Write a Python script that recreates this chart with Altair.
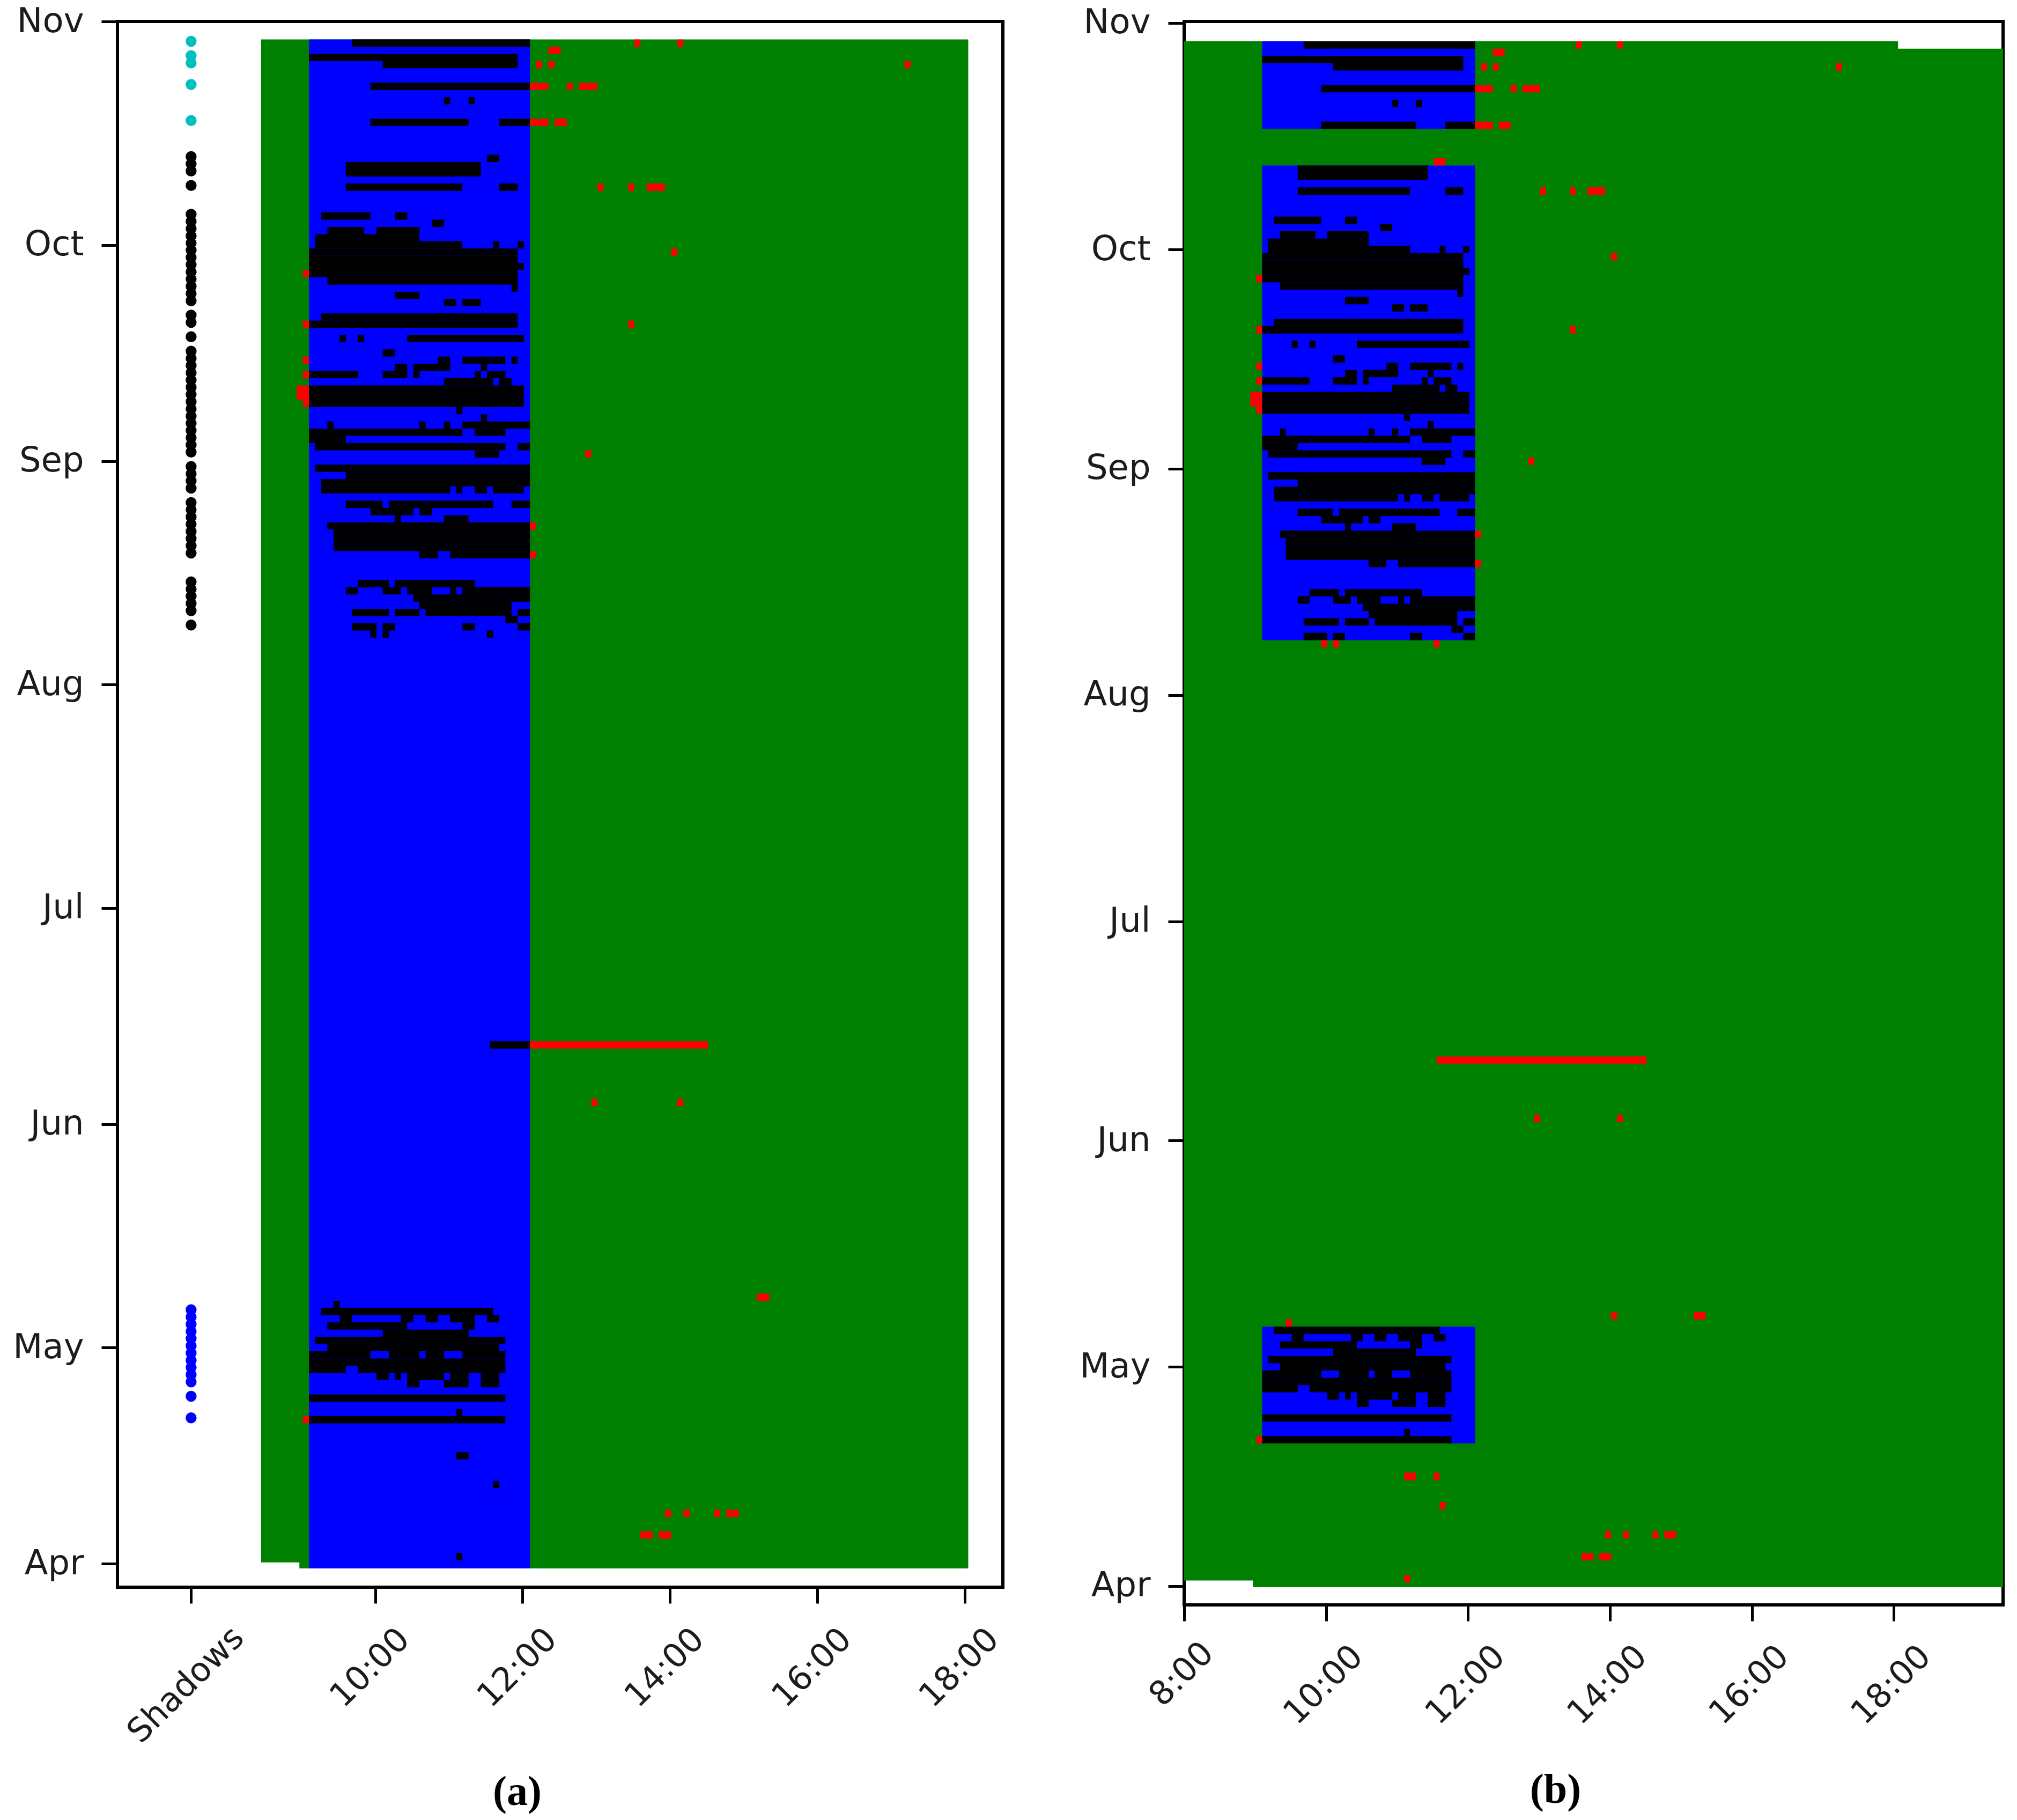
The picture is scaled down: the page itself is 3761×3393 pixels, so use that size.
import altair as alt
import pandas as pd

# Calendar: days since 1 April, month labels
month_days = [0, 30, 61, 91, 122, 153, 183, 214]
month_names = ["Apr", "May", "Jun", "Jul", "Aug", "Sep", "Oct", "Nov"]
# Time slots are 5 minutes, counted from the start of the detection window
window_start = 9.1
window_end = 12.1
first_row_day = 211.5   # rows are days, counted from the top

# detected cells: (row, first slot, end slot)
shadow_cells = [
    (0,7,36),(0,53,54),(0,60,61),(1,39,41),(2,0,34),(3,12,34),(3,37,38),(3,39,40),(3,97,98),
    (6,10,39),(6,42,43),(6,44,47),(8,22,23),(8,26,27),(11,10,26),(11,31,39),(11,40,42),
    (16,29,31),(17,6,28),(18,6,28),(20,6,25),(20,31,34),(20,47,48),(20,52,53),(20,55,58),
    (24,2,10),(24,14,16),(25,20,22),(26,3,9),(26,11,18),(27,1,18),(28,1,25),(28,30,31),(28,34,35),
    (29,0,34),(29,59,60),(30,0,34),(31,0,35),(32,-1,34),(33,3,34),(34,33,34),(35,14,18),
    (36,22,24),(36,25,28),(38,2,34),(39,-1,34),(39,52,53),(41,5,6),(41,8,9),(41,16,35),
    (43,12,14),(44,-1,0),(44,21,23),(44,25,32),(44,33,34),(45,14,16),(45,17,23),(45,28,29),
    (46,-1,8),(46,12,16),(46,17,18),(46,27,28),(46,29,32),(47,22,30),(47,31,33),
    (48,-2,35),(49,-2,35),(50,-1,35),(51,24,25),(52,28,29),
    (53,3,4),(53,18,19),(53,22,23),(53,25,36),(54,0,25),(54,27,32),(55,0,6),
    (56,1,32),(56,34,36),(57,27,31),(57,45,46),(59,1,36),(60,6,36),(61,2,36),
    (62,2,23),(62,24,25),(62,27,29),(62,30,35),(64,6,12),(64,13,30),(64,33,36),
    (65,10,17),(65,18,20),(66,14,15),(66,22,26),(67,3,37),(68,4,36),(69,4,36),(70,4,36),
    (71,18,21),(71,23,37),(75,8,13),(75,14,27),(76,6,8),(76,12,15),(76,16,20),(76,23,24),(76,25,36),
    (77,17,36),(78,18,33),(79,7,13),(79,14,18),(79,19,33),(79,34,36),(80,32,34),
    (81,7,11),(81,12,14),(81,25,27),(81,34,36),(82,10,11),(82,12,13),(82,29,30),
    (139,29.5,65),(147,46,47),(147,60,61),(174,73,75),(175,4,5),
    (176,2,30),(177,5,7),(177,15,17),(177,19,21),(177,23,27),(177,29,31),(178,3,16),(178,25,27),
    (179,12,26),(180,1,32),(181,3,31),(182,0,10),(182,13,18),(182,19,22),(182,25,32),(183,0,32),
    (184,0,6),(184,8,32),(185,11,13),(185,14,15),(185,16,22),(185,23,26),(185,28,31),
    (186,16,18),(186,22,26),(186,28,31),(188,0,32),(190,24,25),(191,-1,32),
    (196,24,26),(200,30,31),(204,58,59),(204,61,62),(204,66,67),(204,68,70),
    (207,54,56),(207,57,59),(210,24,25),
]
# cells only seen in the second panel
extra_cells_b = [(174,59,60),(196,29,30)]
# rows with a blue detection window in the second panel: (first row, end row)
blocks_b = [(0,12),(17,82),(176,192)]

shadow_rows_cyan = [0,2,3,6,11]
shadow_rows_black = [16,17,18,20,24,25,26,27,28,29,30,31,32,33,34,35,36,38,39,41,43,44,45,46,47,48,49,50,51,
                     52,53,54,55,56,57,59,60,61,62,64,65,66,67,68,69,70,71,75,76,77,78,79,81]
shadow_rows_blue = [176,177,178,179,180,181,182,183,184,185,186,188,191]

# background regions: (hour from, hour to, day from, day to, colour)
zones_a = [
    (8.45,18.05,0.2,first_row_day,"#008000"),
    (8.97,18.05,-0.63,0.3,"#008000"),
    (window_start,window_end,-0.63,first_row_day,"#0000ff"),
]
zones_b = [
    (8.97,18.06,-0.15,first_row_day,"#008000"),
    (18.04,19.54,-0.15,210.5,"#008000"),
    (8.0,9.2,0.75,first_row_day,"#008000"),
]
xticks_a = [7.5,10,12,14,16,18]
xticks_b = [8,10,12,14,16,18]


def slot(c):
    return window_start + c / 12


def split_cells(cells, inside):
    out = []
    for r, c0, c1 in cells:
        top = first_row_day - r
        if inside(r):
            for lo, hi, col in [(-999, 0, "#ff0000"), (0, 36, "#000000"), (36, 999, "#ff0000")]:
                a, b = max(c0, lo), min(c1, hi)
                if a < b:
                    out.append((slot(a), slot(b), top - 1, top, col))
        else:
            out.append((slot(c0), slot(c1), top - 1, top, "#ff0000"))
    return out


cols = ["x0", "x1", "d0", "d1", "c"]
blue_b = [(window_start, window_end, first_row_day - e, first_row_day - s, "#0000ff") for s, e in blocks_b]
df_a = pd.DataFrame(zones_a + split_cells(shadow_cells, lambda r: True), columns=cols)
in_block = lambda r: any(s <= r < e for s, e in blocks_b)
df_b = pd.DataFrame(zones_b + blue_b + split_cells(shadow_cells + extra_cells_b, in_block), columns=cols)

dots = pd.DataFrame(
    [(7.5, first_row_day - r - 0.25, "#00bfbf") for r in shadow_rows_cyan]
    + [(7.5, first_row_day - r - 0.25, "#000000") for r in shadow_rows_black]
    + [(7.5, first_row_day - r - 0.25, "#0000ff") for r in shadow_rows_blue],
    columns=["x", "d", "c"],
)

month_expr = "{" + ",".join(f"'{d}':'{n}'" for d, n in zip(month_days, month_names)) + "}[datum.value]"
TXT = "#1c1c1c"


def y_axis():
    return alt.Axis(values=month_days, labelExpr=month_expr, labelFont="DejaVu Sans", labelFontSize=64,
                    labelColor=TXT, labelPadding=33, labelAlign="right", labelBaseline="middle",
                    tickSize=30, tickWidth=5, tickColor="black", domain=False, grid=False, title=None,
                    labelOverlap=False, labelFlush=False, labelLimit=0)


def x_axis(values, expr, caption, tx, ty, pad, off):
    return alt.Axis(values=values, labelExpr=expr, labelFont="DejaVu Sans", labelFontSize=62, labelColor=TXT,
                    labelAngle=315, labelAlign="center", labelBaseline="middle", labelPadding=pad, labelOffset=off,
                    tickSize=30, tickWidth=5, tickColor="black", domain=False, grid=False,
                    labelOverlap=False, labelFlush=False, labelBound=False, labelLimit=0,
                    title=caption, titleFont="Liberation Serif", titleFontSize=78, titleFontWeight="bold",
                    titleColor="black", titleAlign="center", titleBaseline="middle", titleX=tx, titleY=ty)


def panel(df, xdom, ydom, w, h, axis, extra=None):
    x = alt.X("x0:Q", scale=alt.Scale(domain=xdom, nice=False, zero=False), axis=axis)
    y = alt.Y("d0:Q", scale=alt.Scale(domain=ydom, nice=False, zero=False), axis=y_axis())
    rect = alt.Chart(df).mark_rect(strokeWidth=0).encode(x=x, x2="x1:Q", y=y, y2="d1:Q",
                                                        color=alt.Color("c:N", scale=None))
    layers = [rect]
    if extra is not None:
        layers.append(alt.Chart(extra).mark_circle(size=420, opacity=1).encode(
            x=alt.X("x:Q"), y=alt.Y("d:Q"), color=alt.Color("c:N", scale=None)))
    return alt.layer(*layers).properties(width=w, height=h)


pad_cond_a = {"condition": {"test": "datum.value == 7.5", "value": 152}, "value": 120}
pad_cond_b = {"condition": {"test": "datum.value == 8", "value": 99}, "value": 119}
expr_a = "datum.value == 7.5 ? 'Shadows' : datum.value + ':00'"
expr_b = "datum.value + ':00'"

left = panel(df_a, [6.5, 18.52], [-3.24, 214], 1651, 2919,
             x_axis(xticks_a, expr_a, "(a)", 745, 382, pad_cond_a, -10), dots)
right = panel(df_b, [8, 19.54], [-2.6, 214.22], 1527, 2952,
              x_axis(xticks_b, expr_b, "(b)", 692, 345, pad_cond_b, -5))

chart = alt.hconcat(left, right, spacing=132).properties(
    padding={"left": 12, "top": -3, "right": 5, "bottom": 5}, background="white"
).configure_view(stroke="black", strokeWidth=6)

chart.save("out.html", embed_options={"renderer": "svg", "actions": False})
